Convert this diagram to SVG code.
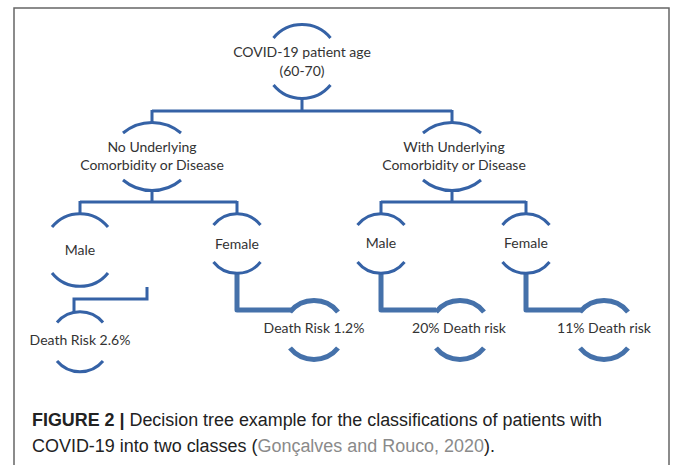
<svg xmlns="http://www.w3.org/2000/svg" width="673" height="465" viewBox="0 0 673 465">
<style>
.thin{fill:none;stroke:#3562a6;stroke-width:3;stroke-linecap:butt}
.thick{fill:none;stroke:#4571aa;stroke-width:5;stroke-linejoin:round}
.lbl{font-family:Lato,"Liberation Sans",sans-serif;font-size:14px;fill:#333;text-anchor:middle}
.cap{font-family:"Liberation Sans",Arial,sans-serif;font-size:18px;fill:#222}
.frame{fill:none;stroke:#666;stroke-width:1.5}
</style>
<rect width="673" height="465" fill="#fff"/>
<path class="frame" d="M14,465 V8 H669 V465"/>
<g id="connectors">
<path class="thin" d="M302,99 V111 M152,111 H452 M152,110 V123 M452,110 V123"/>
<path class="thin" d="M152,190 V202 M80,202 H237 M80,201 V214 M237,201 V214"/>
<path class="thin" d="M452,190 V202 M381,202 H526 M381,201 V214 M526,201 V214"/>
<path class="thin" d="M147,287 V299 H74 V312"/>
<path class="thick" d="M237,274 V310 H291"/>
<path class="thick" d="M381,274 V310 H436"/>
<path class="thick" d="M526,274 V310 H581"/>
</g>
<g id="root">
<path class="thin" d="M273.5,38 A37,37 0 0 1 330.5,38 M273.5,85 A37,37 0 0 0 330.5,85"/>
<text class="lbl" x="302" y="57">COVID-19 patient age</text>
<text class="lbl" x="302" y="76">(60-70)</text>
</g>
<g id="no-underlying">
<path class="thin" d="M123,133 A45,45 0 0 1 181,133 M123,180 A45,45 0 0 0 181,180"/>
<text class="lbl" x="152" y="152">No Underlying</text>
<text class="lbl" x="152" y="170">Comorbidity or Disease</text>
</g>
<g id="with-underlying">
<path class="thin" d="M423,133 A45,45 0 0 1 481,133 M423,180 A45,45 0 0 0 481,180"/>
<text class="lbl" x="454" y="152">With Underlying</text>
<text class="lbl" x="454" y="170">Comorbidity or Disease</text>
</g>
<g id="male-left">
<path class="thin" d="M52,227 A36,36 0 0 1 108,227 M52,273 A36,36 0 0 0 108,273"/>
<text class="lbl" x="80" y="255">Male</text>
</g>
<g id="female-left">
<path class="thin" d="M213.5,225 A30,30 0 0 1 260.5,225 M213.5,262 A30,30 0 0 0 260.5,262"/>
<text class="lbl" x="237" y="249">Female</text>
</g>
<g id="male-right">
<path class="thin" d="M357.5,225 A30,30 0 0 1 404.5,225 M357.5,262 A30,30 0 0 0 404.5,262"/>
<text class="lbl" x="381" y="248">Male</text>
</g>
<g id="female-right">
<path class="thin" d="M502.5,225 A30,30 0 0 1 549.5,225 M502.5,262 A30,30 0 0 0 549.5,262"/>
<text class="lbl" x="526" y="248">Female</text>
</g>
<g id="risk-2-6">
<path class="thin" d="M57,322.5 A30,30 0 0 1 103,322.5 M57,361 A30,30 0 0 0 103,361"/>
<text class="lbl" x="80" y="345">Death Risk 2.6%</text>
</g>
<g id="risk-1-2">
<path class="thick" d="M290,312 A31,31 0 0 1 338,312 M290,348 A31,31 0 0 0 338,348"/>
<text class="lbl" x="314" y="333">Death Risk 1.2%</text>
</g>
<g id="risk-20">
<path class="thick" d="M436,312 A31,31 0 0 1 484,312 M436,348 A31,31 0 0 0 484,348"/>
<text class="lbl" x="459" y="333">20% Death risk</text>
</g>
<g id="risk-11">
<path class="thick" d="M580,312 A31,31 0 0 1 628,312 M580,348 A31,31 0 0 0 628,348"/>
<text class="lbl" x="604" y="333">11% Death risk</text>
</g>
<text class="cap" x="32" y="426" textLength="570" lengthAdjust="spacingAndGlyphs"><tspan font-weight="bold">FIGURE 2 |</tspan> Decision tree example for the classifications of patients with</text>
<text class="cap" x="32" y="452" textLength="463" lengthAdjust="spacingAndGlyphs">COVID-19 into two classes (<tspan fill="#8a8a8a">Gonçalves and Rouco, 2020</tspan>).</text>
</svg>
